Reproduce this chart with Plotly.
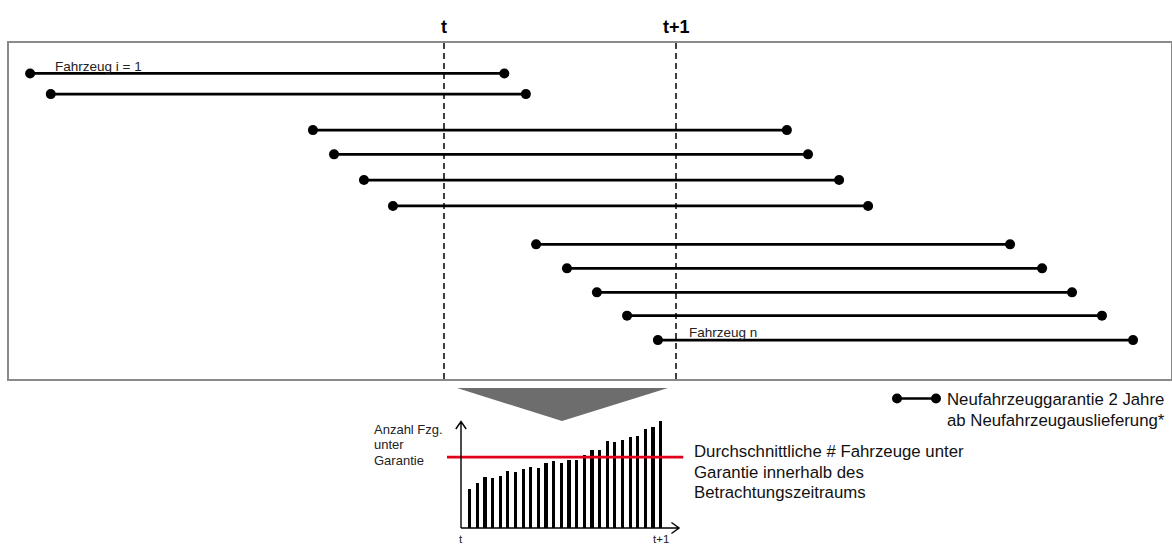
import plotly.graph_objects as go

W, H = 1172, 546
FONT = "Liberation Sans, Arial, Helvetica, sans-serif"

# --- warranty periods per vehicle (years relative to period start t) ---
vehicles = ["Fahrzeug i = 1", "", "", "", "", "", "", "", "", "", "Fahrzeug n"]
delivery = [-1.784, -1.695, -0.565, -0.474, -0.345, -0.220, 0.397, 0.530, 0.659, 0.789, 0.922]
warranty_end = [0.260, 0.353, 1.478, 1.569, 1.703, 1.828, 2.440, 2.578, 2.707, 2.836, 2.970]
row_pos = [1.29, 2.15, 3.65, 4.66, 5.73, 6.81, 8.41, 9.41, 10.41, 11.38, 12.40]

# --- vehicles under warranty during the period t .. t+1 ---
step_index = list(range(26))
under_warranty = [39, 45, 51, 50, 52, 57, 56, 59, 61, 60, 65, 67, 65,
                  68, 68, 73, 78, 78, 87, 86, 88, 91, 92, 99, 101, 107]
mean_under_warranty = sum(under_warranty) / len(under_warranty)

period_marks = [0, 1]
period_labels = ["t", "t+1"]


def px(x):
    return x / W


def py(y):
    return 1 - y / H


fig = go.Figure()

# warranty segments: one line with dots at both ends per vehicle
seg_x, seg_y = [], []
for s, e, r in zip(delivery, warranty_end, row_pos):
    seg_x += [s, e, None]
    seg_y += [r, r, None]
fig.add_trace(go.Scatter(
    x=seg_x, y=seg_y, mode="lines+markers",
    line=dict(color="black", width=2.8),
    marker=dict(color="black", size=10),
    hoverinfo="skip", showlegend=False, xaxis="x", yaxis="y",
))

# bar chart of vehicle count under warranty
fig.add_trace(go.Bar(
    x=step_index, y=under_warranty, width=0.42,
    marker=dict(color="black", line=dict(width=0)),
    hoverinfo="skip", showlegend=False, xaxis="x2", yaxis="y2",
))

# average line
fig.add_trace(go.Scatter(
    x=[-2.96, 27.95], y=[mean_under_warranty, mean_under_warranty],
    mode="lines", line=dict(color="#E2001A", width=2.6),
    hoverinfo="skip", showlegend=False, xaxis="x2", yaxis="y2",
))

shapes = []
annotations = []

# dashed period boundaries
for xm, lab in zip(period_marks, period_labels):
    shapes.append(dict(type="line", xref="x", yref="y domain",
                       x0=xm, x1=xm, y0=0, y1=1,
                       line=dict(color="black", width=1.5, dash="6px,4px")))
    annotations.append(dict(x=xm, y=py(27), xref="x", yref="paper",
                            text=f"<b>{lab}</b>", showarrow=False,
                            xanchor="center", yanchor="middle",
                            font=dict(family=FONT, size=18, color="black")))

# vehicle labels, just above their segment
for name, s, r in zip(vehicles, delivery, row_pos):
    if not name:
        continue
    x_off = 0.10 if name.endswith("1") else 0.125
    annotations.append(dict(x=s + x_off, y=r - 0.30, xref="x", yref="y",
                            text=name, showarrow=False,
                            xanchor="left", yanchor="middle",
                            font=dict(family=FONT, size=13.5, color="#222222")))

# grey arrow pointing down from the timeline to the bar chart
shapes.append(dict(type="path", xref="paper", yref="paper",
                   path=f"M {px(457)},{py(388)} L {px(668)},{py(388)} "
                        f"L {px(562)},{py(421)} Z",
                   fillcolor="#6d6d6d", line=dict(width=0)))

# mini chart axes with open arrow heads
yax_x = -1.125
shapes.append(dict(type="path", xref="x2", yref="y2",
                   path=f"M {yax_x},0 L {yax_x},106.5 "
                        f"M {yax_x - 0.68},99.0 L {yax_x},106.5 L {yax_x + 0.68},99.0",
                   line=dict(color="black", width=1.4)))
shapes.append(dict(type="path", xref="x2", yref="y2",
                   path=f"M {yax_x},0 L 27.4,0 M 26.4,5.5 L 27.4,0 L 26.4,-5.5",
                   line=dict(color="black", width=1.4)))

annotations.append(dict(x=yax_x, y=py(538.5), xref="x2", yref="paper", text="t",
                        showarrow=False, xanchor="center", yanchor="middle",
                        font=dict(family=FONT, size=11.5, color="#222222")))
annotations.append(dict(x=step_index[-1], y=py(538.5), xref="x2", yref="paper",
                        text="t+1", showarrow=False, xanchor="center",
                        yanchor="middle",
                        font=dict(family=FONT, size=11.5, color="#222222")))

for i, line in enumerate(["Anzahl Fzg.", "unter", "Garantie"]):
    annotations.append(dict(x=px(372), y=py(429 + 15.5 * i), xref="paper",
                            yref="paper", text=line, showarrow=False,
                            xanchor="left", yanchor="middle",
                            font=dict(family=FONT, size=13, color="#222222")))

for i, line in enumerate(["Durchschnittliche # Fahrzeuge unter",
                          "Garantie innerhalb des",
                          "Betrachtungszeitraums"]):
    annotations.append(dict(x=px(692), y=py(452 + 20 * i), xref="paper",
                            yref="paper", text=line, showarrow=False,
                            xanchor="left", yanchor="middle",
                            font=dict(family=FONT, size=16.8, color="#111111")))

# legend key: segment with two end dots
shapes.append(dict(type="line", xref="paper", yref="paper",
                   x0=px(897), x1=px(936), y0=py(398.5), y1=py(398.5),
                   line=dict(color="black", width=2.4)))
for cx in (897, 936):
    shapes.append(dict(type="circle", xref="paper", yref="paper",
                       x0=px(cx - 5), x1=px(cx + 5),
                       y0=py(398.5 + 5), y1=py(398.5 - 5),
                       fillcolor="black", line=dict(width=0)))
for i, line in enumerate(["Neufahrzeuggarantie 2 Jahre",
                          "ab Neufahrzeugauslieferung*"]):
    annotations.append(dict(x=px(945), y=py(399 + 21.5 * i), xref="paper",
                            yref="paper", text=line, showarrow=False,
                            xanchor="left", yanchor="middle",
                            font=dict(family=FONT, size=16.8, color="#111111")))

hidden = dict(showgrid=False, zeroline=False, showticklabels=False, ticks="")

fig.update_layout(
    width=W, height=H,
    margin=dict(l=0, r=0, t=0, b=0),
    paper_bgcolor="white", plot_bgcolor="white",
    showlegend=False,
    xaxis=dict(domain=[px(9), px(1171)], range=[-1.875, 3.1336],
               showline=True, mirror=True, linecolor="#8a8a8a", linewidth=1.6,
               **hidden),
    yaxis=dict(domain=[py(379), py(42.5)], range=[14.02, 0],
               showline=True, mirror=True, linecolor="#8a8a8a", linewidth=1.6,
               **hidden),
    xaxis2=dict(domain=[px(430), px(700)], range=[-5.180, 30.138],
                anchor="y2", **hidden),
    yaxis2=dict(domain=[py(540), py(410)], range=[-12, 118],
                anchor="x2", **hidden),
    shapes=shapes,
    annotations=annotations,
    bargap=0,
)

fig.write_html("out.html")
